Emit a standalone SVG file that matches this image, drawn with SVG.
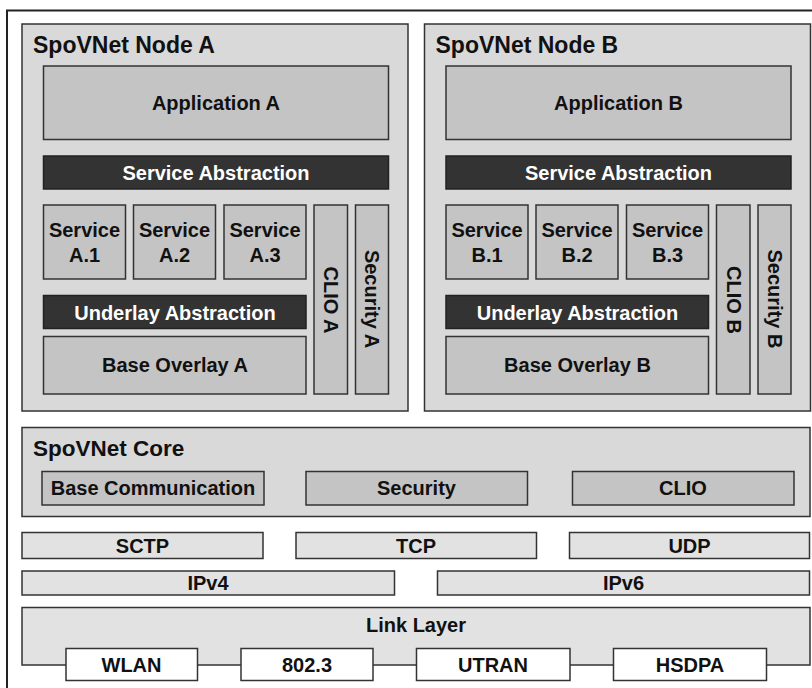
<svg xmlns="http://www.w3.org/2000/svg" width="812" height="688" viewBox="0 0 812 688">
<style>
text{font-family:"Liberation Sans",Arial,Helvetica,sans-serif;font-weight:bold;fill:#111;text-anchor:middle}
.t{font-size:23px;text-anchor:start}
.tc{font-size:22.5px;text-anchor:start}
.f20{font-size:20px}
.w{fill:#fff}
.node{fill:#d9d9d9;stroke:#333;stroke-width:1.5}
.box{fill:#c4c4c4;stroke:#333;stroke-width:1.5}
.dark{fill:#333;stroke:#222;stroke-width:1.5}
.lite{fill:#e2e2e2;stroke:#333;stroke-width:1.5}
.white{fill:#fff;stroke:#333;stroke-width:1.5}
.vert{font-size:20px;dominant-baseline:central}
</style>
<rect x="0" y="0" width="812" height="688" fill="#fff"/>
<rect x="7" y="10.5" width="830" height="700" fill="none" stroke="#222" stroke-width="2"/>

<g id="nodeA">
<rect class="node" x="22" y="24" width="386" height="387"/>
<text class="t" x="33" y="53">SpoVNet Node A</text>
<g id="appA"><rect class="box" x="43.5" y="66" width="345" height="73.5"/><text class="f20" x="216" y="110">Application A</text></g>
<g id="saA"><rect class="dark" x="43.5" y="156" width="345" height="33"/><text class="f20 w" x="216" y="180">Service Abstraction</text></g>
<g id="sA1"><rect class="box" x="43.5" y="205" width="82" height="74"/><text class="f20" x="84.5" y="237">Service</text><text class="f20" x="84.5" y="262">A.1</text></g>
<g id="sA2"><rect class="box" x="133.5" y="205" width="82" height="74"/><text class="f20" x="174.5" y="237">Service</text><text class="f20" x="174.5" y="262">A.2</text></g>
<g id="sA3"><rect class="box" x="224" y="205" width="82" height="74"/><text class="f20" x="265" y="237">Service</text><text class="f20" x="265" y="262">A.3</text></g>
<g id="clioA"><rect class="box" x="314" y="205" width="33.5" height="189"/><text class="vert" transform="translate(331,300) rotate(90)">CLIO A</text></g>
<g id="secA"><rect class="box" x="355.5" y="205" width="33" height="189"/><text class="vert" transform="translate(372,299) rotate(90)">Security A</text></g>
<g id="uaA"><rect class="dark" x="43.5" y="295.5" width="262.5" height="33"/><text class="f20 w" x="175" y="320">Underlay Abstraction</text></g>
<g id="boA"><rect class="box" x="43.5" y="336.5" width="262.5" height="57.5"/><text class="f20" x="175" y="372">Base Overlay A</text></g>
</g>

<g id="nodeB">
<rect class="node" x="424.5" y="24" width="386" height="387"/>
<text class="t" x="435.5" y="53">SpoVNet Node B</text>
<g id="appB"><rect class="box" x="446" y="66" width="345" height="73.5"/><text class="f20" x="618.5" y="110">Application B</text></g>
<g id="saB"><rect class="dark" x="446" y="156" width="345" height="33"/><text class="f20 w" x="618.5" y="180">Service Abstraction</text></g>
<g id="sB1"><rect class="box" x="446" y="205" width="82" height="74"/><text class="f20" x="487" y="237">Service</text><text class="f20" x="487" y="262">B.1</text></g>
<g id="sB2"><rect class="box" x="536" y="205" width="82" height="74"/><text class="f20" x="577" y="237">Service</text><text class="f20" x="577" y="262">B.2</text></g>
<g id="sB3"><rect class="box" x="626.5" y="205" width="82" height="74"/><text class="f20" x="667.5" y="237">Service</text><text class="f20" x="667.5" y="262">B.3</text></g>
<g id="clioB"><rect class="box" x="716.5" y="205" width="33.5" height="189"/><text class="vert" transform="translate(733.5,300) rotate(90)">CLIO B</text></g>
<g id="secB"><rect class="box" x="758" y="205" width="33" height="189"/><text class="vert" transform="translate(774.5,299) rotate(90)">Security B</text></g>
<g id="uaB"><rect class="dark" x="446" y="295.5" width="262.5" height="33"/><text class="f20 w" x="577.5" y="320">Underlay Abstraction</text></g>
<g id="boB"><rect class="box" x="446" y="336.5" width="262.5" height="57.5"/><text class="f20" x="577.5" y="372">Base Overlay B</text></g>
</g>

<g id="core">
<rect class="node" x="22" y="427.5" width="788" height="89"/>
<text class="tc" x="33" y="456">SpoVNet Core</text>
<g id="basecomm"><rect class="box" x="42" y="471.5" width="222" height="33.5"/><text class="f20" x="153" y="495">Base Communication</text></g>
<g id="coresec"><rect class="box" x="306" y="471.5" width="221.5" height="33.5"/><text class="f20" x="416.5" y="495">Security</text></g>
<g id="coreclio"><rect class="box" x="572.5" y="471.5" width="221.5" height="33.5"/><text class="f20" x="683" y="495">CLIO</text></g>
</g>

<g id="sctp"><rect class="lite" x="22" y="532.5" width="241" height="26"/><text class="f20" x="142.5" y="552.5">SCTP</text></g>
<g id="tcp"><rect class="lite" x="296" y="532.5" width="240.5" height="26"/><text class="f20" x="416" y="552.5">TCP</text></g>
<g id="udp"><rect class="lite" x="569.5" y="532.5" width="240" height="26"/><text class="f20" x="689.5" y="552.5">UDP</text></g>
<g id="ipv4"><rect class="lite" x="22" y="571" width="372.5" height="24"/><text class="f20" x="208" y="590">IPv4</text></g>
<g id="ipv6"><rect class="lite" x="437.5" y="571" width="372" height="24"/><text class="f20" x="623.5" y="590">IPv6</text></g>

<g id="linklayer"><rect class="lite" x="22" y="607.5" width="788" height="57.5"/><text class="f20" x="416" y="632">Link Layer</text></g>
<g id="wlan"><rect class="white" x="66" y="648.5" width="131.5" height="32"/><text class="f20" x="131.5" y="672">WLAN</text></g>
<g id="e8023"><rect class="white" x="241" y="648.5" width="132" height="32"/><text class="f20" x="307" y="672">802.3</text></g>
<g id="utran"><rect class="white" x="416.5" y="648.5" width="153.5" height="32"/><text class="f20" x="493" y="672">UTRAN</text></g>
<g id="hsdpa"><rect class="white" x="613.5" y="648.5" width="153" height="32"/><text class="f20" x="690" y="672">HSDPA</text></g>
<g id="connectors"></g>
</svg>
